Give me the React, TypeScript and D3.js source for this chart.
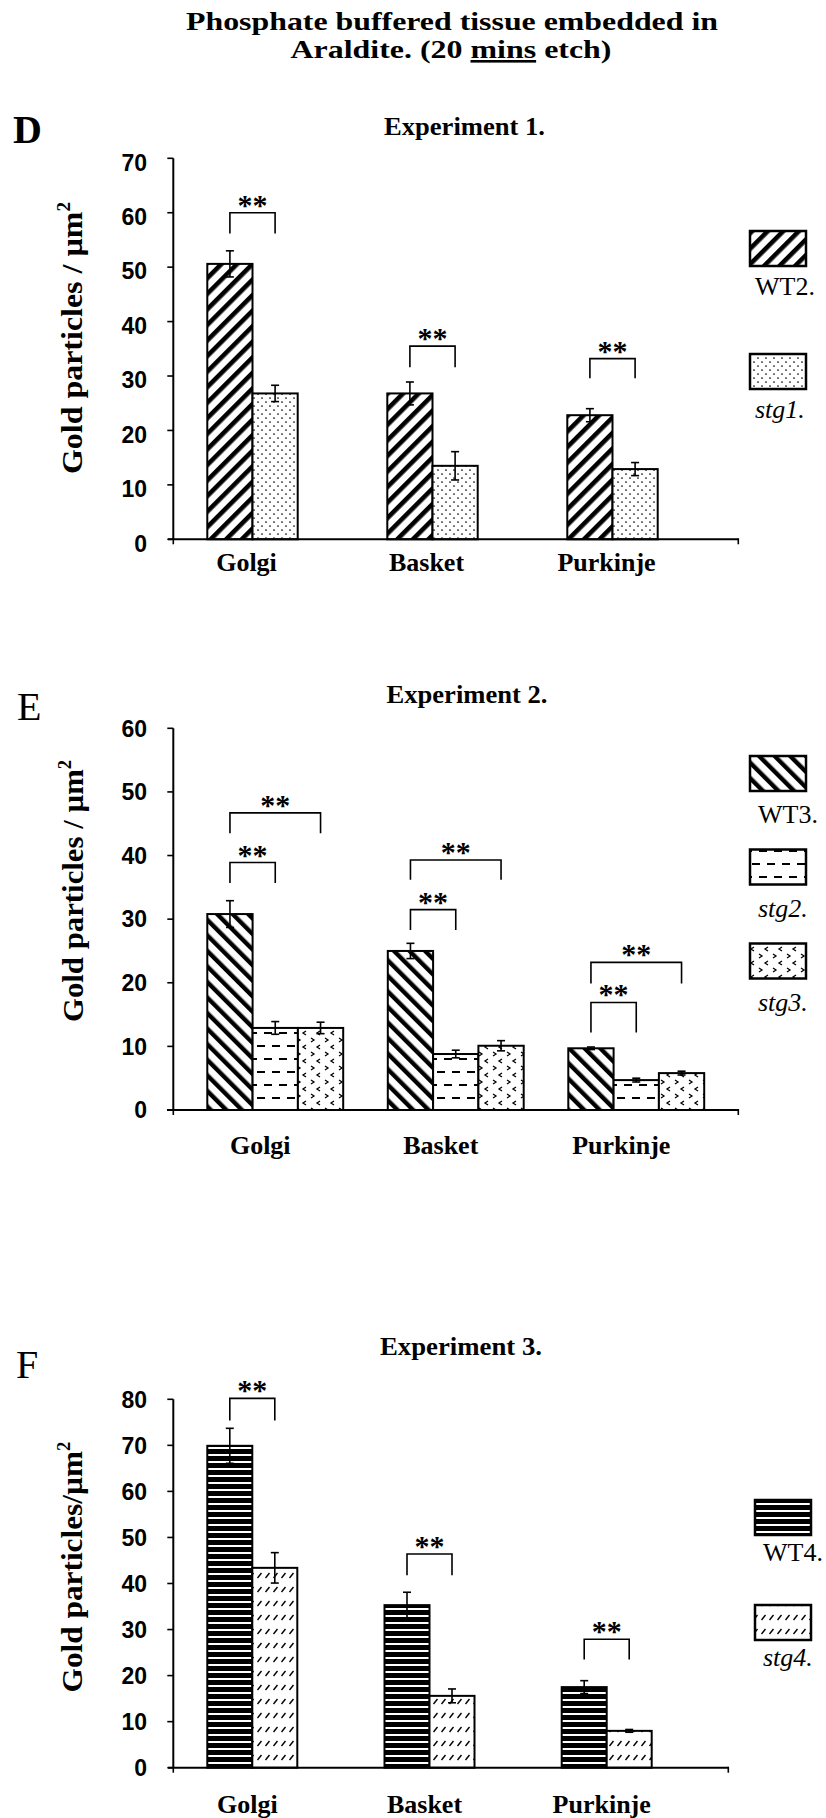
import React from "react";
import * as d3 from "d3";

const categories = ["Golgi", "Basket", "Purkinje"];

// Experiment 1 (panel D)
const exp1Series = ["WT2.", "stg1."];
const exp1WT2 = [50.6, 26.8, 22.8];
const exp1WT2Err = [2.4, 2.1, 1.2];
const exp1Stg1 = [26.8, 13.5, 12.9];
const exp1Stg1Err = [1.5, 2.6, 1.2];
const exp1Ticks = [0, 10, 20, 30, 40, 50, 60, 70];
const exp1Brackets = [
  { cat: "Golgi", from: 0, to: 1, top: 60.0, foot: 56.2 },
  { cat: "Basket", from: 0, to: 1, top: 35.5, foot: 31.6 },
  { cat: "Purkinje", from: 0, to: 1, top: 33.2, foot: 29.6 },
];

// Experiment 2 (panel E)
const exp2Series = ["WT3.", "stg2.", "stg3."];
const exp2WT3 = [30.8, 25.0, 9.7];
const exp2WT3Err = [2.1, 1.2, 0.2];
const exp2Stg2 = [12.9, 8.8, 4.7];
const exp2Stg2Err = [1.0, 0.6, 0.3];
const exp2Stg3 = [12.9, 10.1, 5.8];
const exp2Stg3Err = [0.9, 0.8, 0.3];
const exp2Ticks = [0, 10, 20, 30, 40, 50, 60];
const exp2Brackets = [
  { cat: "Golgi", from: 0, to: 1, top: 38.9, foot: 35.7 },
  { cat: "Golgi", from: 0, to: 2, top: 46.7, foot: 43.5 },
  { cat: "Basket", from: 0, to: 1, top: 31.5, foot: 28.3 },
  { cat: "Basket", from: 0, to: 2, top: 39.3, foot: 36.2 },
  { cat: "Purkinje", from: 0, to: 1, top: 16.9, foot: 12.2 },
  { cat: "Purkinje", from: 0, to: 2, top: 23.2, foot: 19.9 },
];

// Experiment 3 (panel F)
const exp3Series = ["WT4.", "stg4."];
const exp3WT4 = [69.9, 35.3, 17.5];
const exp3WT4Err = [3.8, 2.8, 1.4];
const exp3Stg4 = [43.4, 15.6, 8.0];
const exp3Stg4Err = [3.3, 1.5, 0.3];
const exp3Ticks = [0, 10, 20, 30, 40, 50, 60, 70, 80];
const exp3Brackets = [
  { cat: "Golgi", from: 0, to: 1, top: 80.2, foot: 75.4 },
  { cat: "Basket", from: 0, to: 1, top: 46.4, foot: 41.8 },
  { cat: "Purkinje", from: 0, to: 1, top: 27.9, foot: 23.5 },
];

const SERIF = "'Liberation Serif', 'Times New Roman', Times, serif";
const SANS = "'Liberation Sans', Arial, Helvetica, sans-serif";

type Bracket = { cat: string; from: number; to: number; top: number; foot: number };

interface PanelCfg {
  letter: string;
  letterX: number;
  letterY: number;
  letterWeight: string;
  title: string;
  titleX: number;
  titleY: number;
  titleLen: number;
  yLabel: string;
  yLabelX: number;
  yLabelY: number;
  yLabelLen: number;
  yMax: number;
  ticks: number[];
  yZero: number;
  yTop: number;
  tickDy: number;
  axisX: number;
  xStart: number;
  step: number;
  barW: number;
  axisX0: number;
  axisX1: number;
  series: string[];
  values: number[][];
  errors: number[][];
  patterns: string[];
  italic: boolean[];
  brackets: Bracket[];
  catLabelY: number;
  catLabelDx: number;
  legendX: number;
  legendBoxY: number[];
  legendTextDy: number;
  legendTextDx: number;
}

const panels: PanelCfg[] = [
  {
    letter: "D", letterX: 13, letterY: 143, letterWeight: "bold",
    title: "Experiment 1.", titleX: 464.5, titleY: 135, titleLen: 161,
    yLabel: "Gold particles / µm", yLabelX: 82, yLabelY: 338, yLabelLen: 272,
    yMax: 70, ticks: exp1Ticks, yZero: 539.3, yTop: 158.3, tickDy: 4,
    axisX: 173.3, xStart: 207.3, step: 180, barW: 45.2, axisX0: 168, axisX1: 738.3,
    series: exp1Series, values: [exp1WT2, exp1Stg1], errors: [exp1WT2Err, exp1Stg1Err],
    patterns: ["diagFwd", "dots"], italic: [false, true],
    brackets: exp1Brackets, catLabelY: 571, catLabelDx: -6,
    legendX: 750, legendBoxY: [231, 354], legendTextDy: 29, legendTextDx: 5,
  },
  {
    letter: "E", letterX: 17, letterY: 720, letterWeight: "normal",
    title: "Experiment 2.", titleX: 467, titleY: 703, titleLen: 161,
    yLabel: "Gold particles / µm", yLabelX: 83, yLabelY: 891, yLabelLen: 262,
    yMax: 60, ticks: exp2Ticks, yZero: 1110, yTop: 728.3, tickDy: 0,
    axisX: 173.3, xStart: 207.3, step: 180.5, barW: 45.3, axisX0: 167, axisX1: 738.3,
    series: exp2Series, values: [exp2WT3, exp2Stg2, exp2Stg3], errors: [exp2WT3Err, exp2Stg2Err, exp2Stg3Err],
    patterns: ["diagBack", "dashes", "chevrons"], italic: [false, true, true],
    brackets: exp2Brackets, catLabelY: 1154, catLabelDx: -15,
    legendX: 750, legendBoxY: [756, 849.5, 943.5], legendTextDy: 32, legendTextDx: 8,
  },
  {
    letter: "F", letterX: 16, letterY: 1378, letterWeight: "normal",
    title: "Experiment 3.", titleX: 461, titleY: 1355, titleLen: 162,
    yLabel: "Gold particles/µm", yLabelX: 82, yLabelY: 1567, yLabelLen: 251,
    yMax: 80, ticks: exp3Ticks, yZero: 1767.7, yTop: 1399.3, tickDy: 0,
    axisX: 173.3, xStart: 207.3, step: 177.2, barW: 45, axisX0: 168, axisX1: 728.3,
    series: exp3Series, values: [exp3WT4, exp3Stg4], errors: [exp3WT4Err, exp3Stg4Err],
    patterns: ["hstripes", "hatch"], italic: [false, true],
    brackets: exp3Brackets, catLabelY: 1813, catLabelDx: -5,
    legendX: 755, legendBoxY: [1500, 1605], legendTextDy: 26, legendTextDx: 8,
  },
];

function Patterns() {
  return (
    <defs>
      <pattern id="diagFwd" patternUnits="userSpaceOnUse" width={11} height={11} patternTransform="rotate(45)">
        <rect width={11} height={11} fill="#fff" />
        <rect x={0} y={0} width={4.6} height={11} fill="#000" />
      </pattern>
      <pattern id="diagBack" patternUnits="userSpaceOnUse" width={11} height={11} patternTransform="rotate(-45)">
        <rect width={11} height={11} fill="#fff" />
        <rect x={0} y={0} width={4.4} height={11} fill="#000" />
      </pattern>
      <pattern id="dots" patternUnits="userSpaceOnUse" width={8} height={8}>
        <rect width={8} height={8} fill="#fff" />
        <circle cx={2} cy={2} r={0.85} fill="#000" />
        <circle cx={6} cy={6} r={0.85} fill="#000" />
      </pattern>
      <pattern id="dashes" patternUnits="userSpaceOnUse" width={15} height={26}>
        <rect width={15} height={26} fill="#fff" />
        <rect x={2} y={5} width={8} height={2} fill="#000" />
        <rect x={9} y={18} width={8} height={2} fill="#000" />
        <rect x={-6} y={18} width={8} height={2} fill="#000" />
      </pattern>
      <pattern id="chevrons" patternUnits="userSpaceOnUse" width={14} height={14}>
        <rect width={14} height={14} fill="#fff" />
        <path d="M3,2 L6,4 L3,6" fill="none" stroke="#000" strokeWidth={1.3} />
        <path d="M12,9 L9,11 L12,13" fill="none" stroke="#000" strokeWidth={1.3} />
      </pattern>
      <pattern id="hstripes" patternUnits="userSpaceOnUse" width={10} height={7}>
        <rect width={10} height={7} fill="#000" />
        <rect x={0} y={5} width={10} height={2} fill="#fff" />
      </pattern>
      <pattern id="hatch" patternUnits="userSpaceOnUse" width={8} height={14}>
        <rect width={8} height={14} fill="#fff" />
        <line x1={1.5} y1={10} x2={5.5} y2={5} stroke="#000" strokeWidth={1.4} />
      </pattern>
    </defs>
  );
}

function Panel({ cfg }: { cfg: PanelCfg }) {
  const y = d3.scaleLinear().domain([0, cfg.yMax]).range([cfg.yZero, cfg.yTop]);
  const n = cfg.series.length;
  const groupW = cfg.barW * n;
  const x0 = d3
    .scaleBand<string>()
    .domain(categories)
    .range([cfg.xStart, cfg.xStart + cfg.step * (categories.length - 1) + groupW])
    .paddingInner(1 - groupW / cfg.step)
    .paddingOuter(0);
  const x1 = d3
    .scaleBand<number>()
    .domain(d3.range(n))
    .range([0, groupW]);
  const barCenter = (cat: string, s: number) => (x0(cat) ?? 0) + (x1(s) ?? 0) + x1.bandwidth() / 2;

  return (
    <g>
      <text x={cfg.letterX} y={cfg.letterY} fontFamily={SERIF} fontWeight={cfg.letterWeight} fontSize={40}>
        {cfg.letter}
      </text>
      <text
        x={cfg.titleX}
        y={cfg.titleY}
        textAnchor="middle"
        fontFamily={SERIF}
        fontWeight="bold"
        fontSize={26}
        textLength={cfg.titleLen}
        lengthAdjust="spacingAndGlyphs"
      >
        {cfg.title}
      </text>
      <text
        transform={`translate(${cfg.yLabelX},${cfg.yLabelY}) rotate(-90)`}
        textAnchor="middle"
        fontFamily={SERIF}
        fontWeight="bold"
        fontSize={30}
        textLength={cfg.yLabelLen}
        lengthAdjust="spacingAndGlyphs"
      >
        {cfg.yLabel}
        <tspan fontSize={18} dy={-12}>2</tspan>
      </text>

      {/* bars */}
      {categories.map((cat, ci) =>
        cfg.series.map((s, si) => {
          const v = cfg.values[si][ci];
          return (
            <rect
              key={`${cat}-${si}`}
              x={(x0(cat) ?? 0) + (x1(si) ?? 0)}
              y={y(v)}
              width={x1.bandwidth()}
              height={y(0) - y(v)}
              fill={`url(#${cfg.patterns[si]})`}
              stroke="#000"
              strokeWidth={2}
            />
          );
        })
      )}

      {/* error bars */}
      {categories.map((cat, ci) =>
        cfg.series.map((s, si) => {
          const v = cfg.values[si][ci];
          const e = cfg.errors[si][ci];
          const cx = barCenter(cat, si);
          return (
            <g key={`err-${cat}-${si}`} stroke="#000" strokeWidth={1.6}>
              <line x1={cx} x2={cx} y1={y(v - e)} y2={y(v + e)} />
              <line x1={cx - 4} x2={cx + 4} y1={y(v + e)} y2={y(v + e)} />
              <line x1={cx - 4} x2={cx + 4} y1={y(v - e)} y2={y(v - e)} />
            </g>
          );
        })
      )}

      {/* axes */}
      <line x1={cfg.axisX} x2={cfg.axisX} y1={y(cfg.yMax)} y2={y(0)} stroke="#000" strokeWidth={2} />
      {cfg.ticks.map((t) => (
        <g key={`t${t}`}>
          <line x1={cfg.axisX - 6} x2={cfg.axisX} y1={y(t)} y2={y(t)} stroke="#000" strokeWidth={1.6} />
          <text
            x={147}
            y={y(t) + cfg.tickDy}
            dy="0.36em"
            textAnchor="end"
            fontFamily={SANS}
            fontWeight="bold"
            fontSize={23}
          >
            {t}
          </text>
        </g>
      ))}
      <line x1={cfg.axisX0} x2={cfg.axisX1} y1={y(0)} y2={y(0)} stroke="#000" strokeWidth={2} />
      <line x1={cfg.axisX} x2={cfg.axisX} y1={y(0)} y2={y(0) + 5} stroke="#000" strokeWidth={1.6} />
      <line x1={cfg.axisX1} x2={cfg.axisX1} y1={y(0) - 1} y2={y(0) + 5} stroke="#000" strokeWidth={1.6} />

      {categories.map((cat) => (
        <text
          key={`cl-${cat}`}
          x={(x0(cat) ?? 0) + x0.bandwidth() / 2 + cfg.catLabelDx}
          y={cfg.catLabelY}
          textAnchor="middle"
          fontFamily={SERIF}
          fontWeight="bold"
          fontSize={26}
        >
          {cat}
        </text>
      ))}

      {/* significance brackets */}
      {cfg.brackets.map((b, bi) => {
        const xa = barCenter(b.cat, b.from);
        const xb = barCenter(b.cat, b.to);
        return (
          <g key={`br${bi}`}>
            <path
              d={`M${xa},${y(b.foot)} V${y(b.top)} H${xb} V${y(b.foot)}`}
              fill="none"
              stroke="#000"
              strokeWidth={1.6}
            />
            <text
              x={(xa + xb) / 2}
              y={y(b.top) + 2}
              textAnchor="middle"
              fontFamily={SERIF}
              fontWeight="bold"
              fontSize={30}
            >
              **
            </text>
          </g>
        );
      })}

      {/* legend */}
      {cfg.series.map((s, si) => (
        <g key={`lg${si}`}>
          <rect
            x={cfg.legendX}
            y={cfg.legendBoxY[si]}
            width={56}
            height={35}
            fill={`url(#${cfg.patterns[si]})`}
            stroke="#000"
            strokeWidth={2.5}
          />
          <text
            x={cfg.legendX + cfg.legendTextDx}
            y={cfg.legendBoxY[si] + 35 + cfg.legendTextDy}
            fontFamily={SERIF}
            fontStyle={cfg.italic[si] ? "italic" : "normal"}
            fontSize={26}
          >
            {s}
          </text>
        </g>
      ))}
    </g>
  );
}

export default function App() {
  return (
    <svg
      width={826}
      height={1818}
      viewBox="0 0 826 1818"
      style={{ position: "absolute", left: 0, top: 0, background: "#fff" }}
    >
      <rect width={826} height={1818} fill="#fff" />
      <Patterns />
      <text
        x={452}
        y={30}
        textAnchor="middle"
        fontFamily={SERIF}
        fontWeight="bold"
        fontSize={26}
        textLength={532}
        lengthAdjust="spacingAndGlyphs"
      >
        Phosphate buffered tissue embedded in
      </text>
      <text
        x={451}
        y={58}
        textAnchor="middle"
        fontFamily={SERIF}
        fontWeight="bold"
        fontSize={26}
        textLength={321}
        lengthAdjust="spacingAndGlyphs"
      >
        {"Araldite. (20 "}
        <tspan style={{ textDecoration: "underline" }}>mins</tspan>
        {" etch)"}
      </text>
      {panels.map((p) => (
        <Panel key={p.letter} cfg={p} />
      ))}
    </svg>
  );
}
